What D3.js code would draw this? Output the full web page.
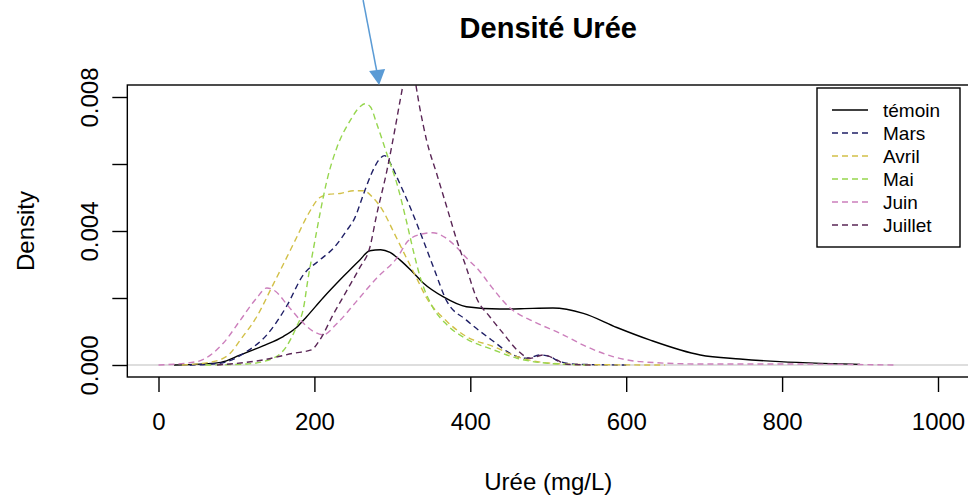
<!DOCTYPE html>
<html>
<head>
<meta charset="utf-8">
<script src="https://cdn.jsdelivr.net/npm/d3@7"></script>
<style>
  html, body { margin: 0; padding: 0; background: #fff; }
  svg { display: block; font-family: "Liberation Sans", Arial, sans-serif; }
</style>
</head>
<body>
<svg id="chart" width="968" height="502"></svg>
<script>
// Kernel density estimates of urea concentration (mg/L), one curve per group: [urée, densité]
const temoin = [[20,0],[40,0.00001],[80,0.00008],[105,0.0003],[134,0.00057],[160,0.00085],[177,0.00112],[190,0.00144],[211,0.002],[237,0.00264],[258,0.00313],[271,0.00341],[285,0.00344],[297,0.00336],[310,0.00313],[325,0.0028],[340,0.00244],[365,0.00204],[395,0.00174],[438,0.00167],[480,0.00169],[506,0.0017],[545,0.00154],[588,0.00112],[630,0.00075],[695,0.0003],[746,0.00018],[797,0.0001],[850,0.00005],[900,0.00002]];
const mars = [[40,0],[70,0.00003],[88,0.0001],[113,0.0004],[139,0.0009],[164,0.00174],[186,0.0027],[205,0.0031],[225,0.0035],[241,0.004],[252,0.0044],[263,0.0051],[273,0.0057],[282,0.0061],[290,0.00625],[298,0.006],[306,0.0056],[323,0.0047],[340,0.0037],[353,0.0029],[370,0.0019],[395,0.00134],[430,0.0007],[451,0.00035],[472,0.0002],[490,0.0003],[502,0.00025],[515,0.0001],[540,0.00002],[600,0]];
const avril = [[30,0],[70,0.0001],[92,0.00035],[105,0.00075],[126,0.00144],[147,0.0024],[160,0.003],[177,0.0038],[192,0.0045],[207,0.005],[220,0.0051],[233,0.00512],[250,0.0052],[263,0.0052],[275,0.005],[288,0.0046],[301,0.004],[318,0.0032],[331,0.0026],[344,0.002],[370,0.0013],[395,0.00085],[430,0.00055],[460,0.00025],[500,0.00006],[550,0.00001],[650,0]];
const mai = [[60,0],[113,0.00003],[147,0.0002],[164,0.00055],[177,0.00114],[186,0.0017],[192,0.0026],[199,0.0035],[207,0.0045],[216,0.0055],[229,0.0065],[246,0.0073],[258,0.0077],[265,0.0078],[272,0.0077],[280,0.0072],[293,0.0063],[306,0.0054],[318,0.0043],[327,0.0034],[336,0.0026],[350,0.0018],[370,0.0012],[395,0.00078],[430,0.00045],[460,0.0002],[500,0.00005],[550,0]];
const juin = [[0,0],[49,0.0001],[83,0.00065],[105,0.00134],[126,0.002],[139,0.0023],[150,0.0022],[165,0.0018],[182,0.00134],[199,0.001],[211,0.0009],[229,0.00124],[254,0.0019],[280,0.0026],[306,0.0032],[320,0.0037],[336,0.0039],[352,0.00395],[368,0.0038],[383,0.0035],[395,0.0032],[412,0.0028],[425,0.0024],[451,0.0017],[481,0.0013],[515,0.00095],[549,0.00055],[583,0.00025],[618,0.0001],[695,0.00003],[800,0.00003],[945,0]];
const juillet = [[75,0],[134,0.00015],[173,0.00035],[196,0.00045],[207,0.00075],[224,0.0015],[241,0.0022],[258,0.0029],[271,0.0035],[280,0.0045],[293,0.0058],[303,0.007],[310,0.0079],[316,0.0086],[322,0.0089],[328,0.0086],[335,0.0077],[344,0.0067],[357,0.0057],[370,0.0047],[383,0.0037],[395,0.0029],[408,0.002],[425,0.00144],[442,0.00095],[460,0.00045],[477,0.0002],[494,0.0003],[511,0.00015],[524,0.00002],[560,0]];

const seriesNames = ["témoin", "Mars", "Avril", "Mai", "Juin", "Juillet"];
const seriesData = [temoin, mars, avril, mai, juin, juillet];
const seriesColors = ["#000000", "#1f1f66", "#d2c048", "#96d64e", "#cc7fbc", "#5a2656"];
const seriesDash = [null, "6,4", "6,4", "6,4", "6,4", "6,4"];

const xTicks = [0, 200, 400, 600, 800, 1000];
const yTicks = [0, 0.002, 0.004, 0.006, 0.008];
const yTickLabels = ["0.000", "", "0.004", "", "0.008"];

const svg = d3.select("#chart");
const W = 968, H = 502;

const x = d3.scaleLinear().domain([0, 1000]).range([158.5, 938]);
const y = d3.scaleLinear().domain([0, 0.008]).range([365, 97]);

const box = { left: x(-40), right: x(1040), top: 85, bottom: 377 };

svg.append("defs").append("clipPath").attr("id", "plotClip")
  .append("rect")
  .attr("x", box.left).attr("y", box.top)
  .attr("width", box.right - box.left).attr("height", box.bottom - box.top);

// zero reference line
svg.append("line")
  .attr("x1", box.left).attr("x2", box.right)
  .attr("y1", y(0)).attr("y2", y(0))
  .attr("stroke", "#bdbdbd").attr("stroke-width", 1.2);

// density curves
const line = d3.line()
  .x(d => x(d[0]))
  .y(d => y(d[1]))
  .curve(d3.curveMonotoneX);

const curves = svg.append("g").attr("clip-path", "url(#plotClip)");
seriesData.forEach((data, i) => {
  curves.append("path")
    .datum(data)
    .attr("d", line)
    .attr("fill", "none")
    .attr("stroke", seriesColors[i])
    .attr("stroke-width", 1.4)
    .attr("stroke-dasharray", seriesDash[i]);
});

// plot frame
svg.append("rect")
  .attr("x", box.left).attr("y", box.top)
  .attr("width", box.right - box.left).attr("height", box.bottom - box.top)
  .attr("fill", "none").attr("stroke", "#000").attr("stroke-width", 1.4);

// x axis
const xAxis = d3.axisBottom(x).tickValues(xTicks).tickSize(15).tickPadding(21)
  .tickFormat(d3.format("d"));
const gx = svg.append("g").attr("transform", `translate(0,${box.bottom})`).call(xAxis);
gx.select(".domain").remove();
gx.selectAll(".tick line").attr("stroke", "#000").attr("stroke-width", 1.4);
gx.selectAll(".tick text").attr("font-size", 24).attr("fill", "#000")
  .attr("font-family", "'Liberation Sans', Arial, sans-serif");

// y axis, labels drawn parallel to the axis
const yAxis = d3.axisLeft(y).tickValues(yTicks).tickSize(15)
  .tickFormat((d, i) => yTickLabels[i]);
const gy = svg.append("g").attr("transform", `translate(${box.left},0)`).call(yAxis);
gy.select(".domain").remove();
gy.selectAll(".tick line").attr("stroke", "#000").attr("stroke-width", 1.4);
gy.selectAll(".tick text")
  .attr("x", null).attr("dy", null)
  .attr("transform", "translate(-29,0) rotate(-90)")
  .attr("text-anchor", "middle")
  .attr("font-size", 24).attr("fill", "#000")
  .attr("font-family", "'Liberation Sans', Arial, sans-serif");

// titles
const midX = (box.left + box.right) / 2;
svg.append("text")
  .attr("x", midX).attr("y", 38)
  .attr("text-anchor", "middle")
  .attr("font-size", 29).attr("font-weight", "bold")
  .text("Densité Urée");

svg.append("text")
  .attr("x", midX).attr("y", 490)
  .attr("text-anchor", "middle")
  .attr("font-size", 24)
  .text("Urée (mg/L)");

svg.append("text")
  .attr("transform", `translate(34,${(box.top + box.bottom) / 2}) rotate(-90)`)
  .attr("text-anchor", "middle")
  .attr("font-size", 24)
  .text("Density");

// legend
const lg = svg.append("g");
lg.append("rect")
  .attr("x", 817).attr("y", 88).attr("width", 143).attr("height", 159)
  .attr("fill", "#fff").attr("stroke", "#000").attr("stroke-width", 1.4);
seriesNames.forEach((name, i) => {
  const cy = 110 + i * 23;
  lg.append("line")
    .attr("x1", 832).attr("x2", 868).attr("y1", cy).attr("y2", cy)
    .attr("stroke", seriesColors[i]).attr("stroke-width", 1.4)
    .attr("stroke-dasharray", seriesDash[i]);
  lg.append("text")
    .attr("x", 883).attr("y", cy).attr("dy", "0.35em")
    .attr("font-size", 19)
    .text(name);
});

// annotation arrow pointing at the Juillet peak region
const tipX = x(283), tipY = box.top;
const arrow = svg.append("g").attr("fill", "#5b9bd5").attr("stroke", "#5b9bd5");
arrow.append("line")
  .attr("x1", tipX - 16).attr("y1", 0).attr("x2", tipX - 2).attr("y2", tipY - 12)
  .attr("stroke-width", 1.5);
arrow.append("path")
  .attr("d", `M${tipX},${tipY} L${tipX - 10},${tipY - 14} L${tipX + 6},${tipY - 16} Z`)
  .attr("stroke", "none");
</script>
</body>
</html>
